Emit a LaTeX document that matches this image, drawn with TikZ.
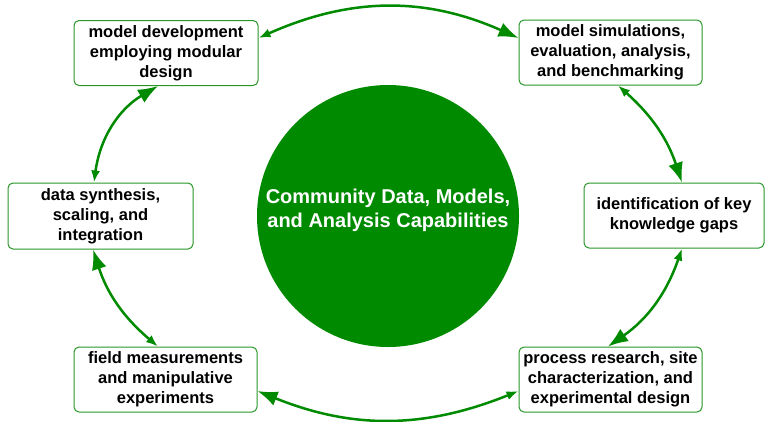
\documentclass[tikz,border=0pt]{standalone}
\usepackage{fontspec}
\setmainfont{Liberation Sans}
\usetikzlibrary{arrows.meta}
\definecolor{hubgreen}{RGB}{0,138,0}
\definecolor{boxgreen}{RGB}{40,150,40}
\tikzset{
    stage/.style={draw=boxgreen, line width=1pt, rounded corners=5pt, fill=white,
        minimum width=184pt, minimum height=65pt, align=center, inner sep=2pt,
        font=\fontsize{16.5}{20}\selectfont\bfseries},
    hub/.style={circle, fill=hubgreen, minimum size=262pt, inner sep=0pt},
    hubtext/.style={text=white, align=center, font=\fontsize{20}{24}\selectfont\bfseries},
    cycle/.style={hubgreen, line width=2.5pt,
        {Latex[length=12pt,width=9pt]}-{Latex[length=20pt,width=15pt]}}
}
\begin{document}
\begin{tikzpicture}[x=1pt,y=-1pt]
    \useasboundingbox (0,0) rectangle (765,421);
    \node[hub] (hub) at (388,216) {};
    \node[hubtext] (hubtext) at (388,210) {Community Data, Models,\\and Analysis Capabilities};

    \node[stage] (dev) at (166,53) {model development\\employing modular\\design};
    \node[stage, minimum width=183pt] (sim) at (610.5,52.5) {model simulations,\\evaluation, analysis,\\and benchmarking};
    \node[stage, minimum width=180pt] (ident) at (674,215.5) {identification of key\\knowledge gaps};
    \node[stage, minimum width=183pt] (proc) at (610.5,379.5) {process research, site\\characterization, and\\experimental design};
    \node[stage, minimum width=183pt] (field) at (165.5,379.5) {field measurements\\and manipulative\\experiments};
    \node[stage, minimum width=185pt, minimum height=66pt] (synth) at (100.5,216) {data synthesis,\\scaling, and\\integration};

    % clockwise cycle, big head at the next stage
    \draw[cycle] ([yshift=15pt]dev.east) to[bend left=24] ([yshift=14.5pt]sim.west);
    \draw[cycle] ([xshift=7.5pt]sim.south) to[bend left=15] ([xshift=8pt]ident.north);
    \draw[cycle] ([xshift=8pt]ident.south) to[bend left=18] ([xshift=-2.5pt]proc.north);
    \draw[cycle] ([yshift=-11.5pt]proc.west) to[bend left=22] ([yshift=-11.5pt]field.east);
    \draw[cycle] ([xshift=-7.5pt]field.north) to[bend left=16] ([xshift=-7.5pt]synth.south);
    \draw[cycle] ([xshift=-6.5pt]synth.north) to[bend left=26] ([xshift=-8pt]dev.south);
\end{tikzpicture}
\end{document}
